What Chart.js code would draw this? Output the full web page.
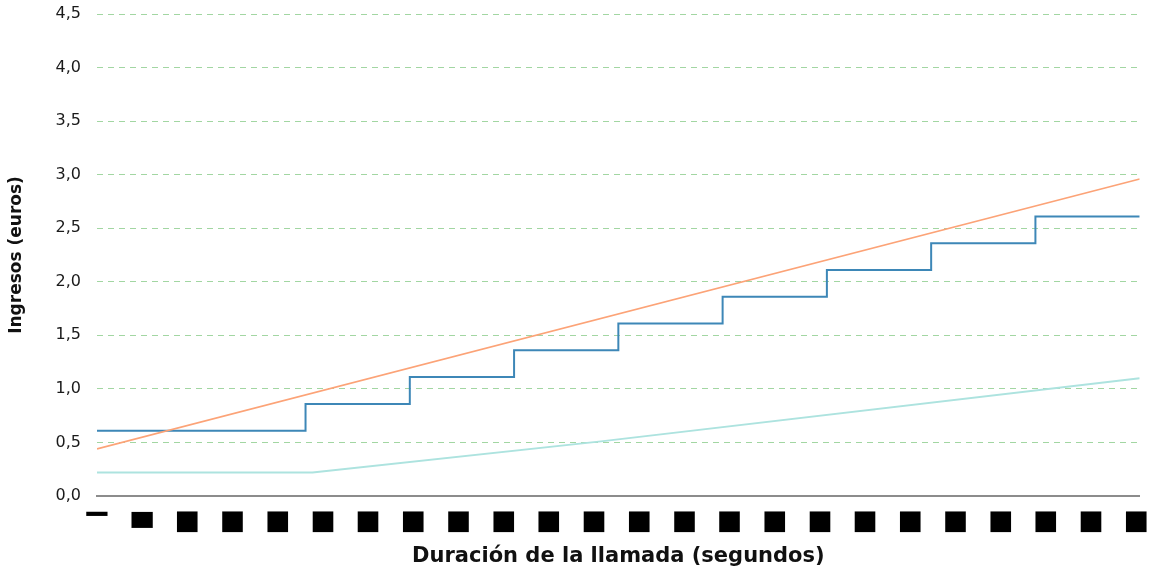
<!DOCTYPE html>
<html>
<head>
<meta charset="utf-8">
<script src="https://cdn.jsdelivr.net/npm/chart.js@4.4.1/dist/chart.umd.min.js"></script>
<style>
  html, body { margin: 0; padding: 0; background: #fff; }
  #wrap { width: 1151px; height: 575px; position: relative; }
</style>
</head>
<body>
<div id="wrap"><canvas id="ingresosChart"></canvas></div>
<script>
// Datos (segundos -> euros)
const blueTimes = [0, 120, 180, 240, 300, 360, 420, 480, 540, 600];
const blueValues = [0.61, 0.86, 1.11, 1.36, 1.61, 1.86, 2.11, 2.36, 2.61, 2.61];

const orangeTimes = [0, 600];
const orangeValues = [0.44, 2.96];

const tealTimes = [0, 124, 290, 600];
const tealValues = [0.22, 0.22, 0.51, 1.10];

// marcas del eje X (cada 26 s) y su texto tal como aparece
const xTickValues = [0, 26, 52, 78, 104, 130, 156, 182, 208, 234, 260, 286, 312, 338, 364, 390, 416, 442, 468, 494, 520, 546, 572, 598];
const xTickText = ['▔', '▀', '■', '■', '■', '■', '■', '■', '■', '■', '■', '■', '■', '■', '■', '■', '■', '■', '■', '■', '■', '■', '■', '■'];

const yTicks = [0, 0.5, 1, 1.5, 2, 2.5, 3, 3.5, 4, 4.5];

function toPoints(xs, ys) {
    return xs.map((x, i) => ({ x: x, y: ys[i] }));
}

const ctx = document.getElementById('ingresosChart').getContext('2d');
new Chart(ctx, {
    type: 'line',
    data: {
        datasets: [
            { label: 'Tarifa 1', data: toPoints(orangeTimes, orangeValues), borderColor: '#fca377', borderWidth: 1.6, pointRadius: 0, fill: false },
            { label: 'Tarifa 2', data: toPoints(blueTimes, blueValues), borderColor: '#3d87b7', borderWidth: 2, pointRadius: 0, stepped: 'before', fill: false },
            { label: 'Tarifa 3', data: toPoints(tealTimes, tealValues), borderColor: '#ade3df', borderWidth: 2, pointRadius: 0, fill: false }
        ]
    },
    options: {
        responsive: true,
        maintainAspectRatio: false,
        animation: false,
        layout: { padding: { top: 0, right: 9, left: 5, bottom: 0 } },
        plugins: { legend: { display: false }, tooltip: { enabled: false } },
        scales: {
            x: {
                type: 'linear',
                min: 0,
                max: 600,
                afterFit: (s) => { s.height = 79; },
                afterBuildTicks: (s) => { s.ticks = xTickValues.map(v => ({ value: v })); },
                grid: { display: false },
                border: { display: true, color: '#8c8c8c', width: 2 },
                ticks: {
                    autoSkip: false,
                    maxRotation: 0,
                    padding: 2,
                    color: '#000',
                    // las dos primeras marcas van pegadas arriba como las demas
                    font: (c) => c.index < 2
                        ? { family: 'DejaVu Sans', size: 27, lineHeight: 1.79 }
                        : { family: 'DejaVu Sans', size: 27 },
                    callback: (v, i) => xTickText[i]
                },
                title: {
                    display: true,
                    text: 'Duración de la llamada (segundos)',
                    color: '#111',
                    font: { family: 'DejaVu Sans', size: 21, weight: 'bold' },
                    padding: { top: 0, bottom: 6 }
                }
            },
            y: {
                min: 0,
                max: 4.5,
                afterFit: (s) => { s.width = 92; s.paddingTop = 14; },
                afterBuildTicks: (s) => { s.ticks = yTicks.map(v => ({ value: v })); },
                border: { display: false, dash: [6, 5] },
                grid: {
                    drawTicks: false,
                    color: (c) => (c.tick && c.tick.value === 0) ? 'rgba(0,0,0,0)' : '#a2d6a2',
                    lineWidth: 1
                },
                ticks: {
                    padding: 16,
                    color: '#1a1a1a',
                    font: { family: 'DejaVu Sans', size: 16 },
                    callback: (v) => v.toFixed(1).replace('.', ',')
                },
                title: {
                    display: true,
                    text: 'Ingresos (euros)',
                    color: '#111',
                    font: { family: 'DejaVu Sans', size: 17, weight: 'bold' },
                    padding: { top: 1, bottom: 0 }
                }
            }
        }
    }
});
</script>
</body>
</html>
